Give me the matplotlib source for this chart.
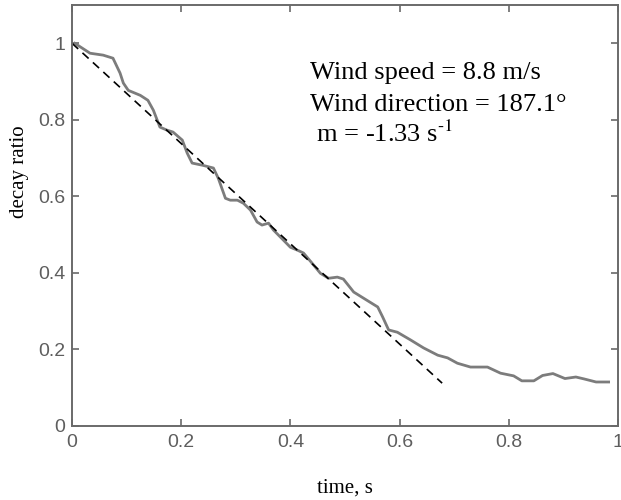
"""
Decay ratio vs time with linear fit
"""

import matplotlib
matplotlib.use('Agg')
import matplotlib.pyplot as plt

plt.rcParams['mathtext.fontset'] = 'stix'

time_s = [0.005, 0.033, 0.057, 0.075, 0.088, 0.094, 0.103, 0.125, 0.139, 0.149,
          0.161, 0.174, 0.185, 0.202, 0.211, 0.220, 0.240, 0.259, 0.268, 0.281,
          0.290, 0.303, 0.314, 0.327, 0.339, 0.348, 0.360, 0.369, 0.387, 0.400,
          0.412, 0.424, 0.440, 0.455, 0.470, 0.486, 0.497, 0.516, 0.534, 0.560,
          0.569, 0.580, 0.596, 0.620, 0.644, 0.670, 0.688, 0.706, 0.730, 0.761,
          0.785, 0.809, 0.824, 0.846, 0.862, 0.881, 0.903, 0.923, 0.938, 0.960,
          0.983]
decay = [1.000, 0.974, 0.969, 0.961, 0.922, 0.896, 0.877, 0.864, 0.851, 0.825,
         0.781, 0.773, 0.768, 0.747, 0.713, 0.687, 0.681, 0.674, 0.647, 0.595,
         0.590, 0.590, 0.582, 0.564, 0.533, 0.525, 0.530, 0.512, 0.486, 0.467,
         0.460, 0.452, 0.425, 0.399, 0.386, 0.389, 0.384, 0.350, 0.334, 0.311,
         0.285, 0.251, 0.245, 0.225, 0.204, 0.185, 0.178, 0.164, 0.154, 0.154,
         0.138, 0.131, 0.118, 0.118, 0.132, 0.137, 0.124, 0.128, 0.123, 0.115,
         0.115]

# linear fit end points
fit_t = [0.0, 0.678]
fit_v = [1.0, 0.112]

info_lines = ['Wind speed = 8.8 m/s',
              'Wind direction = 187.1\u00b0',
              r' m = -1.33 s$^{\text{-1}}$']

axis_grey = '#6a6a6a'
tick_family = ['Liberation Sans', 'DejaVu Sans']
serif = ['Liberation Serif', 'DejaVu Serif']

fig = plt.figure(figsize=(6.21, 5.0), dpi=100)
ax = fig.add_axes([0.116, 0.148, 0.879, 0.842])

ax.plot(time_s, decay, color='#7c7c7c', linewidth=2.0, solid_joinstyle='round')
ax.plot(fit_t, fit_v, color='black', linewidth=1.2, linestyle=(0, (5, 3.5)))

ax.set_xlim(0, 1)
ax.set_ylim(0, 1.1)
ax.set_xticks([0, 0.2, 0.4, 0.6, 0.8, 1])
ax.set_xticklabels(['0', '0.2', '0.4', '0.6', '0.8', '1'])
ax.set_yticks([0, 0.2, 0.4, 0.6, 0.8, 1])
ax.set_yticklabels(['0', '0.2', '0.4', '0.6', '0.8', '1'])

ax.tick_params(direction='in', top=True, right=True, length=5, width=1.2,
               color=axis_grey)
ax.tick_params(axis='x', pad=6)
ax.tick_params(axis='y', pad=5)
for lab in ax.get_xticklabels() + ax.get_yticklabels():
    lab.set_fontfamily(tick_family)
    lab.set_fontsize(14)
    lab.set_color('#5e5e5e')

for sp in ax.spines.values():
    sp.set_color(axis_grey)
    sp.set_linewidth(1.4)

ax.set_xlabel('time, s', family=serif, fontsize=15)
ax.xaxis.set_label_coords(0.5, -0.124)
ax.set_ylabel('decay ratio', family=serif, fontsize=15)
ax.yaxis.set_label_coords(-0.079, 0.603)

text_y = [0.906, 0.822, 0.742]
for line, yy in zip(info_lines, text_y):
    ax.text(0.436, yy, line, family=serif, fontsize=19, va='baseline', ha='left')

plt.savefig('out.png', dpi=100)
plt.close()
